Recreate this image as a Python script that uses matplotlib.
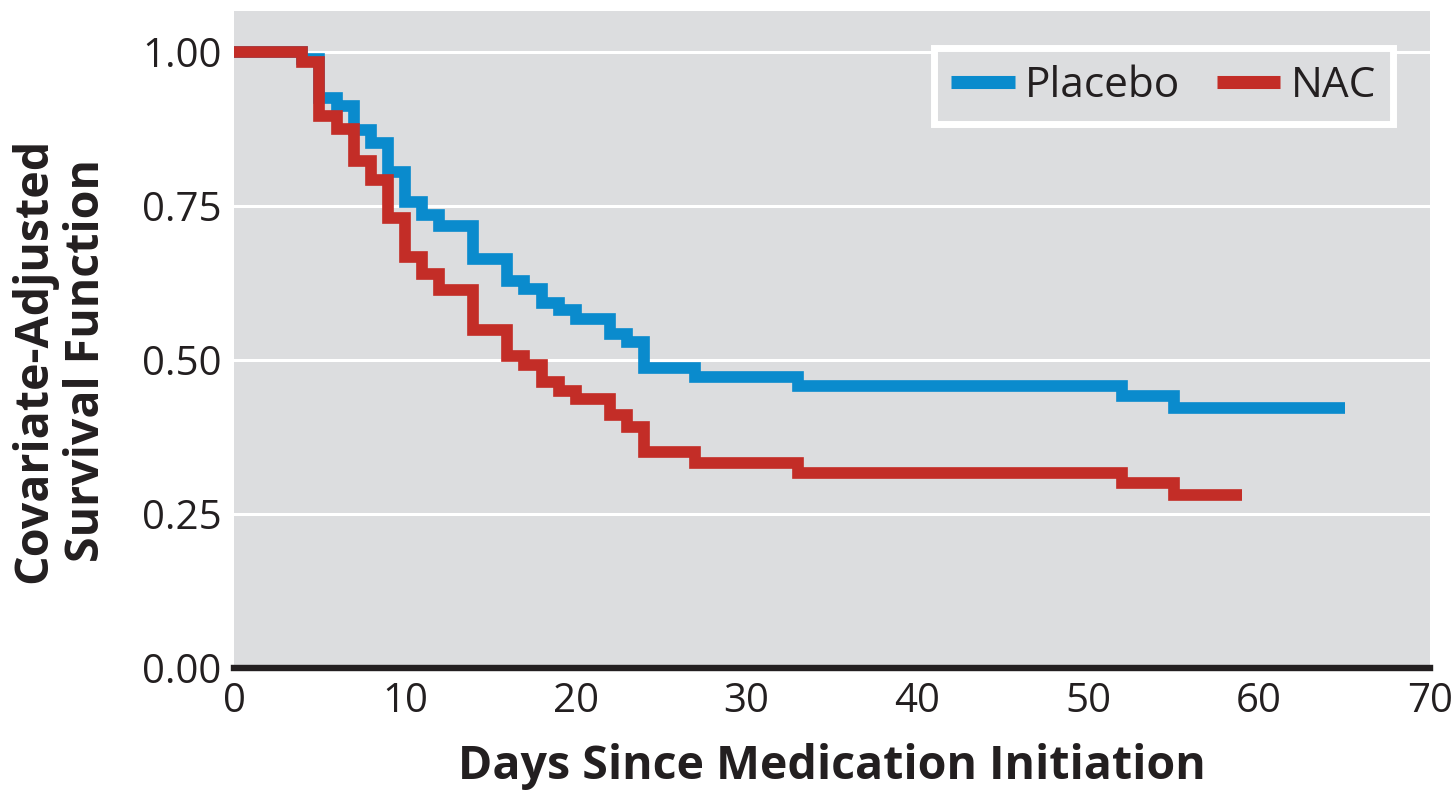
import matplotlib
matplotlib.use("Agg")
import matplotlib.pyplot as plt
from matplotlib.lines import Line2D

# ---- data ----
placebo_days = [0, 4, 5, 6, 7, 8, 9, 10, 11, 12, 14, 16, 17, 18, 19, 20, 22, 23, 24, 27, 33, 52, 55, 65]
placebo_surv = [1.00, 0.988, 0.925, 0.912, 0.874, 0.852, 0.806, 0.757, 0.735, 0.717, 0.664, 0.629,
                0.616, 0.592, 0.581, 0.567, 0.543, 0.530, 0.487, 0.472, 0.457, 0.441, 0.422, 0.422]

nac_days = [0, 4, 5, 6, 7, 8, 9, 10, 11, 12, 14, 16, 17, 18, 19, 20, 22, 23, 24, 27, 33, 52, 55, 59]
nac_surv = [1.00, 0.983, 0.896, 0.875, 0.823, 0.792, 0.730, 0.668, 0.640, 0.613, 0.548, 0.506,
            0.492, 0.465, 0.450, 0.436, 0.410, 0.391, 0.351, 0.332, 0.317, 0.300, 0.281, 0.281]

series_labels = ["Placebo", "NAC"]
x_ticks = [0, 10, 20, 30, 40, 50, 60, 70]
y_ticks = [0.00, 0.25, 0.50, 0.75, 1.00]
x_label = "Days Since Medication Initiation"
y_label = "Covariate-Adjusted\nSurvival Function"

BLUE = "#0a8bcd"
RED = "#c32d27"
BG = "#dcdddf"
TXT = "#231f20"

plt.rcParams['font.family'] = ['Open Sans', 'DejaVu Sans']

fig = plt.figure(figsize=(14.56, 7.90), dpi=100)
ax = fig.add_axes([234/1456, 122/790, (1430-234)/1456, (779-122)/790])
ax.set_facecolor(BG)

ax.set_xlim(0, 70)
ax.set_ylim(0, 1.0666)

for y in y_ticks[1:]:
    ax.axhline(y, color="white", lw=2.2, zorder=1)

ax.step(placebo_days, placebo_surv, where="post", color=BLUE, lw=8.4,
        solid_joinstyle="miter", solid_capstyle="butt", zorder=3)
ax.step(nac_days, nac_surv, where="post", color=RED, lw=8.4,
        solid_joinstyle="miter", solid_capstyle="butt", zorder=4)

for s in ["top", "right", "left"]:
    ax.spines[s].set_visible(False)
ax.spines["bottom"].set_linewidth(4.6)
ax.spines["bottom"].set_color(TXT)
ax.spines["bottom"].set_zorder(5)

ax.set_xticks(x_ticks)
ax.set_xticklabels([str(t) for t in x_ticks])
ax.set_yticks(y_ticks)
ax.set_yticklabels([f"{t:.2f}" for t in y_ticks])
ax.tick_params(axis="both", length=0, labelsize=29, colors=TXT)
ax.tick_params(axis="x", pad=10)
ax.tick_params(axis="y", pad=9)

fig.text(832/1456, 11/790, x_label, ha="center", va="baseline", fontsize=33.5,
         fontweight="bold", color=TXT)
fig.text(60/1456, (790-360)/790, y_label, ha="center", va="center", rotation=90,
         fontsize=33.5, fontweight="bold", color=TXT, linespacing=1.18)

handles = [Line2D([], [], color=BLUE, lw=9.4, solid_capstyle="butt"),
           Line2D([], [], color=RED, lw=9.4, solid_capstyle="butt")]
leg = ax.legend(handles, series_labels, loc="upper right", ncol=2,
                bbox_to_anchor=((1393-234)/1196, (668-48)/657),
                fontsize=30.5, frameon=True, fancybox=False,
                handlelength=1.5, handletextpad=0.25, columnspacing=0.85,
                borderpad=0.4, borderaxespad=0)
for t in leg.get_texts():
    t.set_color(TXT)
fr = leg.get_frame()
fr.set_facecolor(BG)
fr.set_edgecolor("white")
fr.set_linewidth(5)
fr.set_alpha(1)

fig.savefig("out.png", dpi=100, facecolor="white")
